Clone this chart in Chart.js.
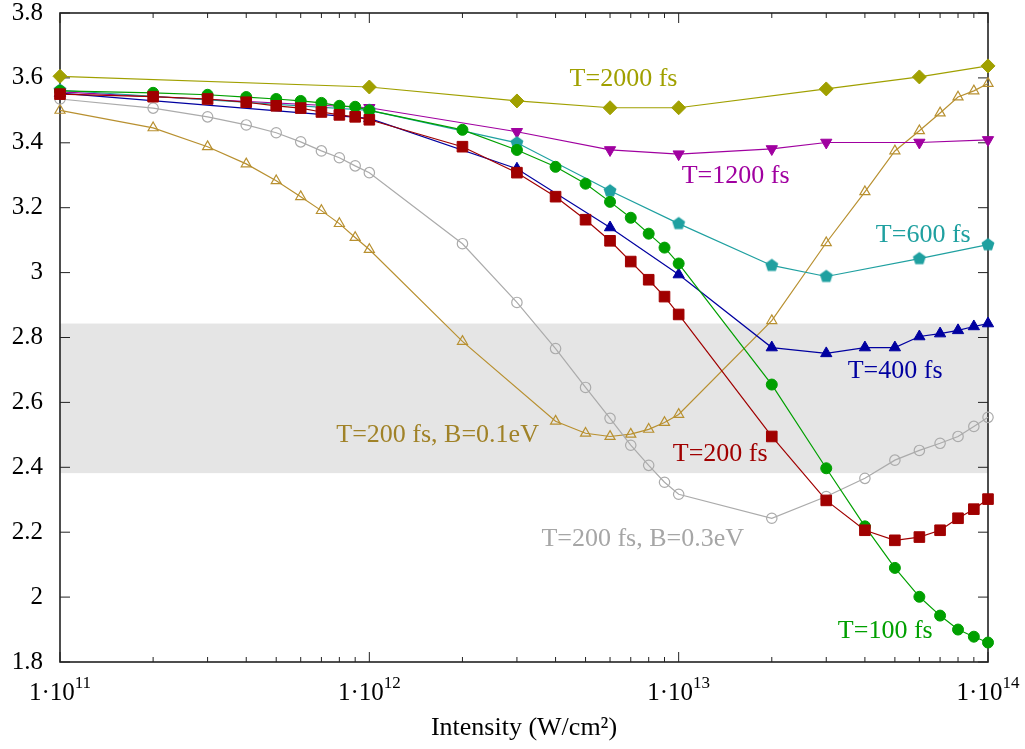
<!DOCTYPE html>
<html>
<head>
<meta charset="utf-8">
<script src="https://cdn.jsdelivr.net/npm/chart.js@4.4.1/dist/chart.umd.min.js"></script>
<style>
  html, body { margin: 0; padding: 0; background: #fff; }
  #wrap { width: 1025px; height: 749px; }
</style>
</head>
<body>
<div id="wrap"><canvas id="chart" width="1025" height="749"></canvas></div>
<script>
// intensities (W/cm^2) used by the different runs
const xAll = [1e11, 2e11, 3e11, 4e11, 5e11, 6e11, 7e11, 8e11, 9e11, 1e12,
  2e12, 3e12, 4e12, 5e12, 6e12, 7e12, 8e12, 9e12, 1e13,
  2e13, 3e13, 4e13, 5e13, 6e13, 7e13, 8e13, 9e13, 1e14];
const x2000 = [1e11, 1e12, 3e12, 6e12, 1e13, 3e13, 6e13, 1e14];
const x1200 = [1e11, 1e12, 3e12, 6e12, 1e13, 2e13, 3e13, 6e13, 1e14];
const x600 = [1e11, 1e12, 3e12, 6e12, 1e13, 2e13, 3e13, 6e13, 1e14];
const x400 = [1e11, 1e12, 3e12, 6e12, 1e13, 2e13, 3e13, 4e13, 5e13, 6e13, 7e13, 8e13, 9e13, 1e14];
const xB01 = [1e11, 2e11, 3e11, 4e11, 5e11, 6e11, 7e11, 8e11, 9e11, 1e12,
  2e12, 4e12, 5e12, 6e12, 7e12, 8e12, 9e12, 1e13,
  2e13, 3e13, 4e13, 5e13, 6e13, 7e13, 8e13, 9e13, 1e14];

const y2000 = [3.605, 3.572, 3.529, 3.508, 3.508, 3.566, 3.603, 3.637];
const y1200 = [3.557, 3.508, 3.434, 3.378, 3.365, 3.381, 3.401, 3.401, 3.409];
const y600 = [3.562, 3.500, 3.400, 3.252, 3.151, 3.022, 2.988, 3.043, 3.086];
const y400 = [3.553, 3.475, 3.320, 3.139, 2.994, 2.769, 2.751, 2.769, 2.769, 2.803, 2.812, 2.822, 2.834, 2.843];
const y200 = [3.550, 3.542, 3.535, 3.525, 3.514, 3.507, 3.495, 3.486, 3.480, 3.471,
  3.388, 3.308, 3.234, 3.163, 3.098, 3.034, 2.978, 2.926, 2.871,
  2.495, 2.298, 2.206, 2.175, 2.185, 2.206, 2.243, 2.271, 2.302];
const y100 = [3.560, 3.554, 3.548, 3.541, 3.535, 3.529, 3.523, 3.514, 3.511, 3.500,
  3.440, 3.378, 3.326, 3.274, 3.218, 3.169, 3.120, 3.077, 3.028,
  2.655, 2.397, 2.218, 2.090, 2.001, 1.943, 1.900, 1.878, 1.860];
const yB03 = [3.535, 3.507, 3.480, 3.455, 3.431, 3.403, 3.375, 3.354, 3.329, 3.308,
  3.089, 2.908, 2.766, 2.646, 2.551, 2.468, 2.406, 2.354, 2.317,
  2.243, 2.310, 2.366, 2.422, 2.452, 2.474, 2.495, 2.526, 2.554];
const yB01 = [3.500, 3.446, 3.388, 3.335, 3.283, 3.234, 3.191, 3.151, 3.108, 3.071,
  2.788, 2.542, 2.505, 2.495, 2.502, 2.517, 2.538, 2.563,
  2.852, 3.092, 3.249, 3.375, 3.437, 3.492, 3.541, 3.560, 3.583];

// shaded band
const bandLow = 2.382;
const bandHigh = 2.843;

const xTickValues = [1e11, 1e12, 1e13, 1e14];
const xTickBase = '1·10';
const xTickExp = ['11', '12', '13', '14'];
const xMinorSteps = [2, 3, 4, 5, 6, 7, 8, 9];
const yTickValues = [1.8, 2.0, 2.2, 2.4, 2.6, 2.8, 3.0, 3.2, 3.4, 3.6, 3.8];

const FONT = '"Liberation Serif", "Times New Roman", serif';

const C2000 = '#a0a000', C1200 = '#a000a0', C600 = '#1fa0a0', C400 = '#0000a0';
const C200 = '#a00000', C100 = '#00a000', CB03 = '#ababab', CB01 = '#b89030';

// in-plot captions, anchored at left/baseline in data units
const captions = [
  { text: 'T=2000 fs', x: 4.44e12, y: 3.575, color: C2000 },
  { text: 'T=1200 fs', x: 1.023e13, y: 3.277, color: C1200 },
  { text: 'T=600 fs', x: 4.34e13, y: 3.095, color: C600 },
  { text: 'T=400 fs', x: 3.52e13, y: 2.674, color: C400 },
  { text: 'T=200 fs', x: 9.57e12, y: 2.418, color: C200 },
  { text: 'T=200 fs, B=0.1eV', x: 7.82e11, y: 2.477, color: '#a08228' },
  { text: 'T=200 fs, B=0.3eV', x: 3.60e12, y: 2.157, color: '#a6a6a6' },
  { text: 'T=100 fs', x: 3.27e13, y: 1.874, color: C100 }
];

function pentagon(color, r) {
  const c = document.createElement('canvas');
  const s = Math.ceil(r * 2 + 2);
  c.width = c.height = s;
  const g = c.getContext('2d');
  g.beginPath();
  for (let i = 0; i < 5; i++) {
    const a = -Math.PI / 2 + i * 2 * Math.PI / 5;
    g.lineTo(s / 2 + r * Math.cos(a), s / 2 + r * Math.sin(a));
  }
  g.closePath();
  g.fillStyle = color;
  g.fill();
  return c;
}

function series(xs, ys, color, style, extra) {
  return Object.assign({
    data: xs.map((x, i) => ({ x: x, y: ys[i] })),
    showLine: true,
    borderColor: color,
    backgroundColor: color,
    borderWidth: 1.2,
    pointStyle: style,
    pointBackgroundColor: color,
    pointBorderColor: color,
    pointBorderWidth: 1,
    pointRadius: 5.5,
    pointHoverRadius: 5.5,
    tension: 0,
    clip: false
  }, extra || {});
}

const datasets = [
  series(xAll, y200, C200, 'rect', { pointRadius: 7.5, order: 0 }),
  series(xAll, y100, C100, 'circle', { order: 1 }),
  series(x400, y400, C400, 'triangle', { pointRadius: 6.5, order: 2 }),
  series(x600, y600, C600, pentagon(C600, 6.8), { order: 3 }),
  series(x1200, y1200, C1200, 'triangle', { pointRadius: 6.5, pointRotation: 180, order: 4 }),
  series(x2000, y2000, C2000, 'rectRot', { pointRadius: 7, order: 5 }),
  series(xAll, yB03, CB03, 'circle', { pointRadius: 5.2, pointBackgroundColor: 'rgba(0,0,0,0)', pointBorderWidth: 1.2, order: 6 }),
  series(xB01, yB01, CB01, 'triangle', { pointRadius: 5.8, pointBackgroundColor: 'rgba(0,0,0,0)', pointBorderWidth: 1.2, order: 7 })
];

const framePlugin = {
  id: 'frame',
  beforeDatasetsDraw(chart) {
    const { ctx, chartArea: a, scales: { x, y } } = chart;
    ctx.save();
    const yTop = y.getPixelForValue(bandHigh);
    const yBot = y.getPixelForValue(bandLow);
    ctx.fillStyle = '#e5e5e5';
    ctx.fillRect(a.left, yTop, a.right - a.left, yBot - yTop);

    ctx.strokeStyle = '#222';
    ctx.lineWidth = 1;
    ctx.beginPath();
    yTickValues.forEach(v => {
      const py = y.getPixelForValue(v);
      ctx.moveTo(a.left, py); ctx.lineTo(a.left + 10, py);
      ctx.moveTo(a.right, py); ctx.lineTo(a.right - 10, py);
    });
    xTickValues.forEach((d, i) => {
      const px = x.getPixelForValue(d);
      ctx.moveTo(px, a.bottom); ctx.lineTo(px, a.bottom - 10);
      ctx.moveTo(px, a.top); ctx.lineTo(px, a.top + 10);
      if (i === xTickValues.length - 1) return;
      xMinorSteps.forEach(m => {
        const pm = x.getPixelForValue(d * m);
        ctx.moveTo(pm, a.bottom); ctx.lineTo(pm, a.bottom - 5);
        ctx.moveTo(pm, a.top); ctx.lineTo(pm, a.top + 5);
      });
    });
    ctx.stroke();

    ctx.lineWidth = 1.6;
    ctx.strokeRect(a.left, a.top, a.right - a.left, a.bottom - a.top);
    ctx.restore();
  }
};

// x tick labels with a real superscript exponent
const xLabelPlugin = {
  id: 'xlabels',
  afterDraw(chart) {
    const { ctx, chartArea: a, scales: { x } } = chart;
    ctx.save();
    ctx.fillStyle = '#000';
    ctx.textAlign = 'left';
    ctx.textBaseline = 'alphabetic';
    xTickValues.forEach((v, i) => {
      ctx.font = '25px ' + FONT;
      const w1 = ctx.measureText(xTickBase).width;
      ctx.font = '17px ' + FONT;
      const w2 = ctx.measureText(xTickExp[i]).width;
      const left = x.getPixelForValue(v) - (w1 + w2) / 2;
      ctx.font = '25px ' + FONT;
      ctx.fillText(xTickBase, left, a.bottom + 38);
      ctx.font = '17px ' + FONT;
      ctx.fillText(xTickExp[i], left + w1, a.bottom + 26);
    });
    ctx.restore();
  }
};

const captionPlugin = {
  id: 'captions',
  afterDatasetsDraw(chart) {
    const { ctx, scales: { x, y } } = chart;
    ctx.save();
    ctx.font = '26px ' + FONT;
    ctx.textAlign = 'left';
    ctx.textBaseline = 'alphabetic';
    captions.forEach(c => {
      ctx.fillStyle = c.color;
      ctx.fillText(c.text, x.getPixelForValue(c.x), y.getPixelForValue(c.y));
    });
    ctx.restore();
  }
};

new Chart(document.getElementById('chart'), {
  type: 'scatter',
  data: { datasets: datasets },
  options: {
    responsive: false,
    animation: false,
    devicePixelRatio: 1,
    layout: { padding: { top: 13, right: 37, left: 0, bottom: 0 } },
    plugins: { legend: { display: false }, tooltip: { enabled: false } },
    scales: {
      x: {
        type: 'logarithmic',
        min: 1e11,
        max: 1e14,
        grid: { display: false, drawTicks: false },
        border: { display: false },
        afterBuildTicks: s => { s.ticks = xTickValues.map(v => ({ value: v })); },
        afterFit: s => { s.height = 87; s.paddingLeft = 0; s.paddingRight = 0; },
        ticks: { display: false },
        title: {
          display: true,
          text: 'Intensity (W/cm²)',
          color: '#000',
          font: { family: FONT, size: 26 },
          padding: { top: 0, bottom: 5 }
        }
      },
      y: {
        min: 1.8,
        max: 3.8,
        grid: { display: false, drawTicks: false },
        border: { display: false },
        afterFit: s => { s.width = 60; s.paddingTop = 0; s.paddingBottom = 0; },
        ticks: {
          stepSize: 0.2,
          padding: 17,
          color: '#000',
          font: { family: FONT, size: 25 },
          callback: v => String(Number(v.toFixed(1)))
        }
      }
    }
  },
  plugins: [framePlugin, captionPlugin, xLabelPlugin]
});
</script>
</body>
</html>
